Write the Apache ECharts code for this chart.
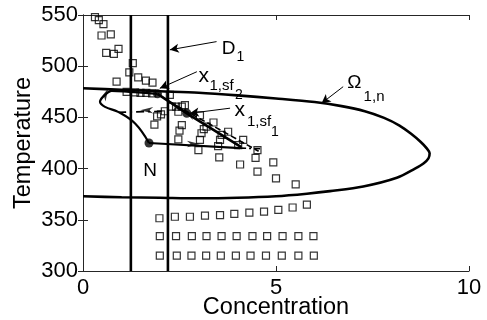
<!DOCTYPE html>
<html><head><meta charset="utf-8">
<script src="https://cdn.jsdelivr.net/npm/echarts@6/dist/echarts.min.js"></script>
<style>html,body{margin:0;padding:0;background:#fff}#c{width:487px;height:320px}</style>
</head><body><div id="c"></div>
<script>
// ---- data ----
var squares = [
 [0.31,548],[0.41,545],[0.53,541],[0.48,530],[0.72,531],[0.60,513],[0.80,512],[0.92,517],
 [1.29,503],[1.20,494],[1.43,489],[1.63,486],[1.80,484],[0.87,485],
 [1.13,475],[1.35,474.5],[1.49,474],[1.64,474],[1.79,473.5],[2.25,472],
 [1.85,443],[1.92,451],[2.02,453],[2.12,456],[2.30,460.5],[2.41,460.5],[2.56,460.5],[2.64,462],
 [2.47,455.5],[3.03,452],[2.56,442.5],[2.50,437],[2.47,428.5],[3.03,428],[3.07,434.5],[3.13,438.5],
 [3.20,441],[3.38,445],[2.99,418],[3.55,428],[3.59,433],[3.76,436],[3.53,411],[3.50,422],
 [4.02,423],[4.15,428],[4.07,404],[4.52,418],[4.47,410.5],[4.52,397],[4.93,406],[5.00,390.5],[5.51,384.5],
 [1.98,351.5],[2.38,353],[2.77,353],[3.16,354],[3.55,354.5],[3.92,355.7],[4.31,357],[4.69,358],[5.06,359.6],[5.43,362],[5.80,364.8],
 [1.99,334],[2.41,334],[2.82,334],[3.20,334],[3.59,334],[3.98,334],[4.39,334],[4.77,334],[5.17,334],[5.58,334],[5.97,334],
 [1.99,315],[2.43,315],[2.81,315],[3.19,315],[3.57,315],[3.96,315],[4.34,315],[4.74,315],[5.15,315],[5.58,315],[5.98,315]
];
var ellipse = [
 [0,478.5],[1,477],[2,475.5],[3,474],[4,471.5],[5,468.5],[6,465],[6.7,461],[7.3,456],[7.8,449.5],[8.2,442],
 [8.5,434],[8.75,426],[8.9,420],[8.98,415],[8.95,410],[8.82,405],[8.6,400],[8.13,391],[7.26,382.5],[6.4,378],[5.8,375.5],
 [5,373],[4,371.5],[3,371],[2,371.5],[1,372],[0,373]
];
var lineD1a = [[1.24,300],[1.24,550]];
var lineD1b = [[2.2,300],[2.2,550]];
var trajLoop = [[1.71,425],[1.35,444],[0.91,455.4],[0.57,460.3],[0.44,465.2],[0.48,468.5],[0.61,473.3],[0.74,476],[1.2,475],[1.93,473]];
var trajDiag = [[1.93,473],[2.69,454],[4.1,421]];
var trajDiagDash = [[2.2,466],[4.55,417]];
var trajRight = [[1.71,425],[4.07,420]];
var trajRightDash = [[4.07,420],[4.6,419.5]];
var trajLeftDash = [[0.91,455],[2.04,456]];
var points = [[1.71,425],[1.93,473],[2.69,454]];
var arrowHeads = [[0.58,472.5,-25],[2.86,424,-90],[1.65,457,90],[2.75,453.5,57]];
var annotLines = [
 [[3.46,524],[2.25,516]],
 [[2.95,494.6],[1.99,478.4]],
 [[3.81,459],[2.77,454]],
 [[6.74,480],[6.18,463.8]]
];
var textX = [3.77, 4.08, 3.13, 3.59, 4.04, 4.06, 4.56, 4.97, 7.03, 7.54, 1.74];
var textY = [517.3, 509.3, 490.2, 480.9, 471.9, 456.7, 445.8, 435.3, 483.6, 470.2, 397.7];
var textStr = ['D','1','x','1,sf','2','x','1,sf','1','\u03A9','1,n','N'];
var textSize = [19, 14, 21, 15, 14, 21, 15, 14, 19, 15, 19];
var xTicks = [0,5,10];
var yTicks = [300,350,400,450,500,550];

// ---- chart ----
var FONT = '"Liberation Sans", Arial, Helvetica, sans-serif';
var chart = echarts.init(document.getElementById('c'), null, {renderer:'canvas'});
function lineSeries(data, width, type, smooth){
  return {type:'line', data:data, showSymbol:false, symbol:'none', smooth:smooth||false,
    lineStyle:{color:'#000', width:width, type:type||'solid'}, clip:true, silent:true, z:3};
}
var axisCommon = {
  axisLine:{show:true, lineStyle:{color:'#262626', width:1}},
  axisTick:{show:true, inside:true, length:5, lineStyle:{color:'#262626'}},
  splitLine:{show:false}
};
var option = {
  animation:false,
  backgroundColor:'#fff',
  grid:{left:83, right:18, top:15, bottom:49, containLabel:false, outerBoundsMode:'none'},
  xAxis:[
    Object.assign({type:'value', min:xTicks[0], max:xTicks[xTicks.length-1], interval:5,
      name:'Concentration', nameLocation:'middle', nameGap:25, nameMoveOverlap:false,
      nameTextStyle:{fontFamily:FONT, fontSize:23.5, color:'#000'},
      axisLabel:{fontFamily:FONT, fontSize:22, color:'#000', margin:6}}, axisCommon),
    Object.assign({type:'value', position:'top', min:0, max:10, interval:5, axisLabel:{show:false}}, axisCommon)
  ],
  yAxis:[
    Object.assign({type:'value', min:yTicks[0], max:yTicks[yTicks.length-1], interval:50,
      name:'Temperature', nameLocation:'middle', nameGap:47, nameMoveOverlap:false,
      nameTextStyle:{fontFamily:FONT, fontSize:23.5, color:'#000'},
      axisLabel:{fontFamily:FONT, fontSize:22, color:'#000', margin:5}}, axisCommon),
    Object.assign({type:'value', position:'right', min:300, max:550, interval:50, axisLabel:{show:false}}, axisCommon)
  ],
  series:[
    {type:'scatter', data:squares, symbol:'rect', symbolSize:7,
      itemStyle:{color:'rgba(255,255,255,0)', borderColor:'#000', borderWidth:1.2}, z:2, silent:true},
    lineSeries(ellipse, 2.6, 'solid', 0.3),
    lineSeries(lineD1a, 2.6),
    lineSeries(lineD1b, 2.6),
    lineSeries(trajLoop, 2.2, 'solid', 0.4),
    lineSeries(trajDiag, 2.6),
    lineSeries(trajDiagDash, 1.6, [6,3]),
    lineSeries(trajRight, 2.2, 'solid', 0.2),
    lineSeries(trajRightDash, 1.6, [6,3,2,3]),
    lineSeries(trajLeftDash, 1.6, [8,4,2,4]),
    {type:'scatter', data:points, symbol:'circle', symbolSize:9, itemStyle:{color:'#000'}, z:5, silent:true},
    {type:'scatter', data:arrowHeads, symbol:'path://M5,0 L10,14 L5,10 L0,14 Z', symbolKeepAspect:true,
      symbolSize:[9,13], symbolRotate:function(v){return v[2];}, itemStyle:{color:'#000'}, z:5, silent:true},
    {type:'line', data:[], silent:true, z:4,
      markLine:{silent:true, symbol:['none','arrow'], symbolSize:[7,9], animation:false,
        lineStyle:{color:'#000', width:1, type:'solid'}, label:{show:false},
        data:annotLines.map(function(s){return [{coord:s[0]},{coord:s[1]}];})}},
    {type:'custom', silent:true, z:6, clip:false,
      data:textX.map(function(x,i){return [x, textY[i], i];}),
      renderItem:function(params, api){
        var i = api.value(2);
        var p = api.coord([api.value(0), api.value(1)]);
        return {type:'text', x:p[0], y:p[1], style:{text:textStr[i], fill:'#000',
          font: textSize[i] + 'px ' + FONT, align:'center', verticalAlign:'middle'}};
      }}
  ]
};
chart.setOption(option);
</script></body></html>
